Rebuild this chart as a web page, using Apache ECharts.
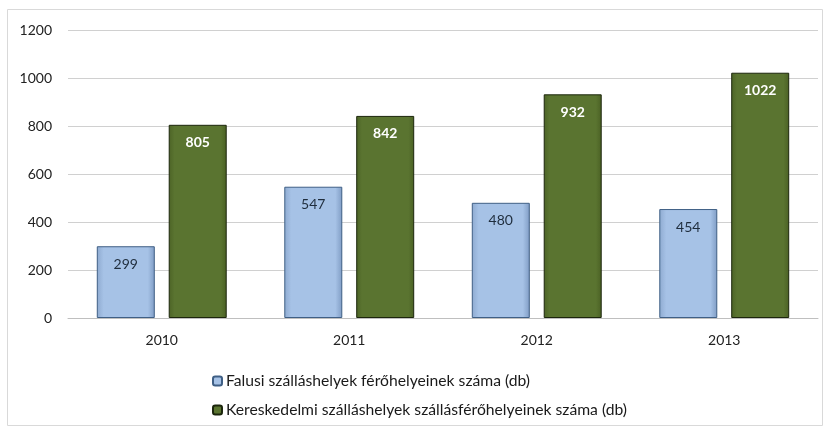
<!DOCTYPE html>
<html><head><meta charset="utf-8">
<script src="https://cdn.jsdelivr.net/npm/echarts@6/dist/echarts.min.js"></script>
<style>html,body{margin:0;padding:0;background:#fff}#c{width:839px;height:439px}</style>
</head><body><div id="c"></div>
<script>
const categories = ['2010','2011','2012','2013'];
const falusi = [299, 547, 480, 454];
const kereskedelmi = [805, 842, 932, 1022];
const seriesNames = ['Falusi szálláshelyek férőhelyeinek száma (db)','Kereskedelmi szálláshelyek szállásférőhelyeinek száma (db)'];
const yTicks = {min:0, max:1200, interval:200};

const font = 'Lato, "Open Sans", sans-serif';
const chart = echarts.init(document.getElementById('c'));
chart.setOption({
  animation:false,
  graphic:[{type:'rect',shape:{x:7.5,y:9.5,width:815,height:416},style:{fill:'none',stroke:'#d9d9d9',lineWidth:1},z:-1}],
  grid:{left:68,right:21,top:30,bottom:121},
  legend:{orient:'vertical',left:207,top:368,itemGap:13,itemWidth:9,itemHeight:9,
    textStyle:{fontFamily:font,fontSize:15.7,color:'#1a1a1a',padding:[0,0,0,-1]},data:seriesNames},
  xAxis:{type:'category',data:categories,
    axisLine:{lineStyle:{color:'#bfbfbf'}},axisTick:{show:false},
    axisLabel:{fontFamily:font,fontSize:14,color:'#222',margin:15}},
  yAxis:{type:'value',min:yTicks.min,max:yTicks.max,interval:yTicks.interval,
    splitLine:{lineStyle:{color:'#d0d0d0'}},axisLine:{show:false},axisTick:{show:false},
    axisLabel:{fontFamily:font,fontSize:14,color:'#222',margin:16,formatter:v=>String(v)}},
  series:[
    {name:seriesNames[0],type:'bar',data:falusi,barWidth:58,barGap:'24%',
      itemStyle:{color:new echarts.graphic.LinearGradient(0,0,1,0,[{offset:0,color:'#8eaad0'},{offset:0.12,color:'#a6c2e6'},{offset:0.88,color:'#a6c2e6'},{offset:1,color:'#7f9cc4'}]),borderColor:'#3f5f85',borderWidth:1},
      label:{show:true,position:'insideTop',distance:11,fontFamily:font,fontSize:14,color:'#1f2d3d'}},
    {name:seriesNames[1],type:'bar',data:kereskedelmi,barWidth:58,
      itemStyle:{color:new echarts.graphic.LinearGradient(0,0,1,0,[{offset:0,color:'#4c6326'},{offset:0.1,color:'#5a7430'},{offset:0.9,color:'#5a7430'},{offset:1,color:'#4a6024'}]),borderColor:'#1c260c',borderWidth:1},
      label:{show:true,position:'insideTop',distance:11,fontFamily:font,fontSize:14,fontWeight:'bold',color:'#fff'}}
  ]
});
</script></body></html>
